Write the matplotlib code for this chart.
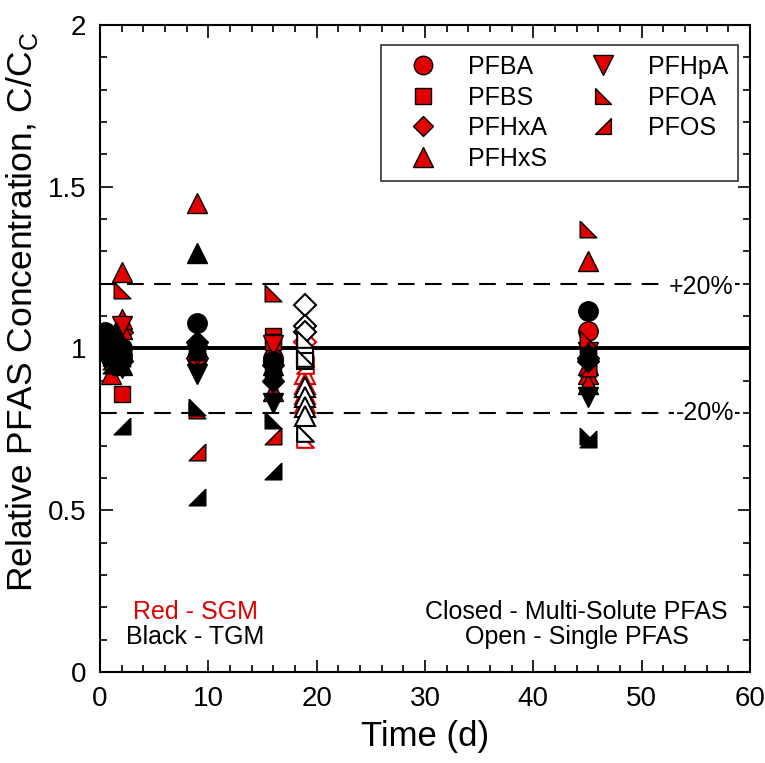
import matplotlib
matplotlib.use('Agg')
import matplotlib.pyplot as plt
from matplotlib.ticker import MultipleLocator
from matplotlib.lines import Line2D

plt.rcParams['font.family'] = ['Liberation Sans', 'DejaVu Sans']

RED = '#E00000'

compounds = ['PFBA', 'PFBS', 'PFHxA', 'PFHxS', 'PFHpA', 'PFOA', 'PFOS']

# SGM (red, closed): times and C/Cc values per compound
sgm_t = {
    'PFBA':  [1, 2, 9, 16, 45],
    'PFBS':  [1, 2, 9, 16, 16, 45],
    'PFHxA': [1, 2, 9, 16, 45],
    'PFHxS': [1, 2, 2, 2, 9, 16, 45, 45, 45, 45],
    'PFHpA': [1, 2, 9, 16, 45],
    'PFOA':  [1, 2, 9, 16, 45, 45],
    'PFOS':  [1, 2, 9, 16, 45],
}
sgm_y = {
    'PFBA':  [1.00, 0.98, 0.97, 0.97, 1.055],
    'PFBS':  [0.97, 0.86, 0.98, 1.04, 1.02, 0.99],
    'PFHxA': [0.99, 1.05, 0.97, 0.95, 0.97],
    'PFHxS': [0.92, 1.235, 1.09, 1.06, 1.45, 0.87, 1.27, 0.95, 0.92, 0.89],
    'PFHpA': [0.96, 1.07, 0.98, 1.01, 0.99],
    'PFOA':  [1.00, 1.18, 0.81, 1.17, 1.37, 1.03],
    'PFOS':  [0.96, 0.98, 0.68, 0.73, 0.94],
}

# TGM (black, closed)
tgm_t = {
    'PFBA':  [0.5, 1, 1.5, 2, 9, 16, 45],
    'PFBS':  [0.5, 1, 1.5, 2, 9, 16, 45],
    'PFHxA': [0.5, 1, 1.5, 2, 9, 16, 45],
    'PFHxS': [0.5, 1, 1.5, 2, 9, 16, 45],
    'PFHpA': [0.5, 1, 2, 9, 16, 45],
    'PFOA':  [0.5, 1.5, 2, 9, 16, 45],
    'PFOS':  [1, 2, 9, 16, 45],
}
tgm_y = {
    'PFBA':  [1.05, 1.02, 0.99, 1.00, 1.08, 0.96, 1.115],
    'PFBS':  [1.00, 0.98, 0.96, 0.97, 0.99, 0.93, 0.98],
    'PFHxA': [1.03, 0.99, 1.01, 0.96, 1.02, 0.90, 0.96],
    'PFHxS': [1.02, 1.00, 1.05, 0.95, 1.295, 0.95, 0.99],
    'PFHpA': [0.97, 1.01, 0.94, 0.92, 0.83, 0.85],
    'PFOA':  [1.00, 1.04, 0.97, 0.82, 0.78, 0.73],
    'PFOS':  [0.95, 0.76, 0.54, 0.62, 0.72],
}

# Single-solute (open markers) at day 19
open_day = 18.9
open_sgm = {
    'PFBS':  [0.97],
    'PFHxA': [1.02],
    'PFHxS': [0.92, 0.89, 0.86, 0.83],
    'PFOA':  [1.00, 0.72],
    'PFOS':  [0.95],
}
open_tgm = {
    'PFBS':  [0.98, 0.96],
    'PFHxA': [1.135, 1.07, 1.05],
    'PFHxS': [0.88, 0.85, 0.82, 0.79],
    'PFOA':  [1.03, 0.97, 0.74],
}

markers = {
    'PFBA': 'o', 'PFBS': 's', 'PFHxA': 'D', 'PFHxS': '^', 'PFHpA': 'v',
    'PFOA': [(-1, 1), (-1, -1), (1, -1), (-1, 1)],
    'PFOS': [(1, 1), (1, -1), (-1, -1), (1, 1)],
}
sizes = {'PFBA': 14, 'PFBS': 12, 'PFHxA': 11, 'PFHxS': 14.5, 'PFHpA': 14.5,
         'PFOA': 12, 'PFOS': 12}

fig = plt.figure(figsize=(7.65, 7.63), dpi=100)
ax = fig.add_axes([0.1307, 0.1193, 0.8497, 0.8480])

# reference lines
ax.axhline(1.0, color='black', lw=2.8, zorder=1)
ax.axhline(1.006, color='black', lw=1.2, ls=(0, (1, 3)), zorder=1)
ax.axhline(1.2, color='black', lw=1.5, ls=(0, (8, 5)), zorder=1)
ax.axhline(0.8, color='black', lw=1.5, ls=(0, (8, 5)), zorder=1)

for c in compounds:
    ax.plot(sgm_t[c], sgm_y[c], ls='none', marker=markers[c], ms=sizes[c],
            mfc=RED, mec='black', mew=1, zorder=3)
for c in compounds:
    ax.plot(tgm_t[c], tgm_y[c], ls='none', marker=markers[c], ms=sizes[c],
            mfc='black', mec='black', mew=1, zorder=4)
for c, vals in open_sgm.items():
    ax.plot([open_day] * len(vals), vals, ls='none', marker=markers[c],
            ms=sizes[c], mfc='white', mec=RED, mew=1.5, zorder=3)
for c, vals in open_tgm.items():
    ax.plot([open_day] * len(vals), vals, ls='none', marker=markers[c],
            ms=sizes[c], mfc='white', mec='black', mew=1.5, zorder=4)

ax.set_xlim(0, 60)
ax.set_ylim(0, 2)
ax.xaxis.set_major_locator(MultipleLocator(10))
ax.xaxis.set_minor_locator(MultipleLocator(2))
ax.yaxis.set_major_locator(MultipleLocator(0.5))
ax.yaxis.set_minor_locator(MultipleLocator(0.1))
ax.yaxis.set_major_formatter(plt.FuncFormatter(lambda v, p: f'{v:g}'))
ax.tick_params(which='both', direction='in', top=True, right=True,
               labelsize=20, width=1.2, pad=10)
ax.tick_params(which='major', length=9)
ax.tick_params(which='minor', length=5)
for s in ax.spines.values():
    s.set_linewidth(1.5)

ax.set_xlabel('Time (d)', fontsize=25, labelpad=6)
ax.set_ylabel(r'Relative PFAS Concentration, C/C$_\mathregular{C}$',
              fontsize=25.5)
ax.yaxis.set_label_coords(-0.092, 0.556)

ax.text(58.5, 1.19, '+20%', fontsize=18, ha='right', va='center',
        bbox=dict(fc='white', ec='none', pad=1))
ax.text(58.5, 0.80, '-20%', fontsize=18, ha='right', va='center',
        bbox=dict(fc='white', ec='none', pad=1))

ax.text(8.8, 0.165, 'Red - SGM', color=RED, fontsize=18, ha='center')
ax.text(8.8, 0.085, 'Black - TGM', color='black', fontsize=18, ha='center')
ax.text(44.0, 0.165, 'Closed - Multi-Solute PFAS', fontsize=18, ha='center')
ax.text(44.0, 0.085, 'Open - Single PFAS', fontsize=18, ha='center')

handles = [Line2D([], [], ls='none', marker=markers[c], ms=sizes[c] * 0.95,
                  mfc=RED, mec='black', mew=1) for c in compounds]
leg = ax.legend(handles, compounds, ncol=2, loc='upper right',
                bbox_to_anchor=(0.9815, 0.969), borderaxespad=0,
                fontsize=18, frameon=True,
                fancybox=False, edgecolor='black', handletextpad=0.5,
                columnspacing=0.9, labelspacing=0.26, borderpad=0.4,
                handlelength=2.6)
leg.get_frame().set_linewidth(1.2)
leg.set_zorder(6)

fig.savefig('out.png', dpi=100)
